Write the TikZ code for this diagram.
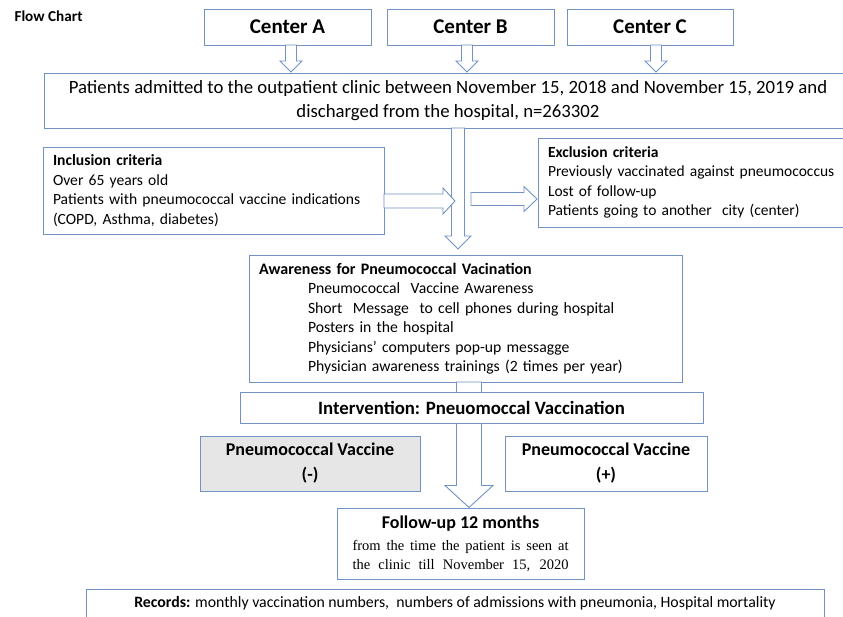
\documentclass[tikz,border=0pt]{standalone}
\usepackage{fontspec}
\setmainfont{Carlito}
\newfontfamily\timesf{Liberation Serif}
\definecolor{bline}{RGB}{112,146,196}
\definecolor{vgray}{RGB}{230,230,230}
\newcommand{\fs}[2]{\fontsize{#1}{#2}\selectfont}
% down block arrow: x, ytop, ytip, shaft half, head half, head length
\newcommand{\dnarrow}[6]{%
  \draw[barrow] ({#1-#4},#2) -- ({#1+#4},#2) -- ({#1+#4},{#3-#6}) -- ({#1+#5},{#3-#6})
    -- (#1,#3) -- ({#1-#5},{#3-#6}) -- ({#1-#4},{#3-#6}) -- cycle;}
% right block arrow: y, xleft, xtip, shaft half, head half, head length
\newcommand{\rtarrow}[6]{%
  \draw[barrow] (#2,{#1-#4}) -- ({#3-#6},{#1-#4}) -- ({#3-#6},{#1-#5}) -- (#3,#1)
    -- ({#3-#6},{#1+#5}) -- ({#3-#6},{#1+#4}) -- (#2,{#1+#4}) -- cycle;}
\begin{document}
\begin{tikzpicture}[x=1pt,y=-1pt,
  box/.style={draw=bline,line width=0.9pt,fill=white,inner sep=0pt,rectangle},
  barrow/.style={draw=bline,line width=0.9pt,fill=white,line join=miter}]
\useasboundingbox (0,0) rectangle (843,616);

\node[anchor=west,font=\fs{15.2}{17}\bfseries] (title) at (11,16) {Flow Chart};

% centers
\node[box,minimum width=167,minimum height=36,font=\fs{21}{24}\bfseries] (cA) at (287.5,27) {Center A};
\node[box,minimum width=167,minimum height=36,font=\fs{21}{24}\bfseries] (cB) at (470.5,27) {Center B};
\node[box,minimum width=166,minimum height=36,font=\fs{21}{24}\bfseries] (cC) at (650,27) {Center C};

\dnarrow{291}{45}{72}{5.5}{11}{11}
\dnarrow{467}{45}{72}{5.5}{11}{11}
\dnarrow{656}{45}{72}{5.5}{11}{11}

% main population box
\node[box,minimum width=808,minimum height=55,align=center,font=\fs{18.75}{24}] (pop) at (448,100.5)
  {Patients admitted to the outpatient clinic between November 15, 2018 and November 15, 2019 and\\discharged from the hospital, n=263302};

% central vertical arrow
\dnarrow{458}{128}{249}{6.5}{13}{13}

% inclusion
\node[box,minimum width=341,minimum height=87,text width=321,inner xsep=10,align=left,font=\fs{15.6}{19.5}] (inc) at (213.5,190.5)
  {\textbf{Inclusion criteria}\\Over 65 years old\\Patients with pneumococcal vaccine indications\\(COPD, Asthma, diabetes)};
\rtarrow{201}{384}{455}{7}{13}{12}

% exclusion
\rtarrow{199}{471}{537}{6.5}{12.5}{13}
\node[box,minimum width=314,minimum height=89,text width=294,inner xsep=10,align=left,font=\fs{15.5}{19.5}] (exc) at (695,182.5)
  {\textbf{Exclusion criteria}\\Previously vaccinated against pneumococcus\\Lost of follow-up\\Patients going to another~ city (center)};

% awareness
\node[box,minimum width=433,minimum height=127,text width=413,inner xsep=10,align=left,font=\fs{15.7}{19.5}] (aw) at (465.5,318.5)
  {{\fs{16}{19.5}\textbf{Awareness for Pneumococcal Vacination}}\\
   \hspace*{49pt}Pneumococcal~ Vaccine Awareness\\
   \hspace*{49pt}Short~ Message~ to cell phones during hospital\\
   \hspace*{49pt}Posters in the hospital\\
   \hspace*{49pt}Physicians' computers pop-up messagge\\
   \hspace*{49pt}Physician awareness trainings (2 times per year)};

% arrow from awareness to follow-up (behind intervention box)
\dnarrow{469}{382}{507.5}{12.5}{24}{22}

% intervention
\node[box,minimum width=463,minimum height=31,font=\fs{18.8}{22}\bfseries] (int) at (471.5,407.5)
  {Intervention: Pneuomoccal Vaccination};

% vaccine groups
\node[box,fill=vgray,minimum width=220,minimum height=55,align=center,font=\fs{18}{25}\bfseries] (vneg) at (310,463.5)
  {Pneumococcal Vaccine\\(-)};
\node[box,minimum width=202,minimum height=55,align=center,font=\fs{18}{25}\bfseries] (vpos) at (606,463.5)
  {Pneumococcal Vaccine\\(+)};

% follow-up
\node[box,minimum width=247,minimum height=71,align=center,font=\fs{14.5}{19}] (fu) at (460.5,543.5)
  {{\fs{18}{22}\bfseries Follow-up 12 months}\\[3pt]
   {\timesf\makebox[216pt][s]{from the time the patient is seen at}}\\
   {\timesf\makebox[216pt][s]{the clinic till November 15, 2020}}};

% records
\node[box,minimum width=738,minimum height=28,font=\fs{15.8}{18}] (rec) at (455,603)
  {\textbf{Records:} monthly vaccination numbers,~ numbers of admissions with pneumonia, Hospital mortality};
\end{tikzpicture}
\end{document}
